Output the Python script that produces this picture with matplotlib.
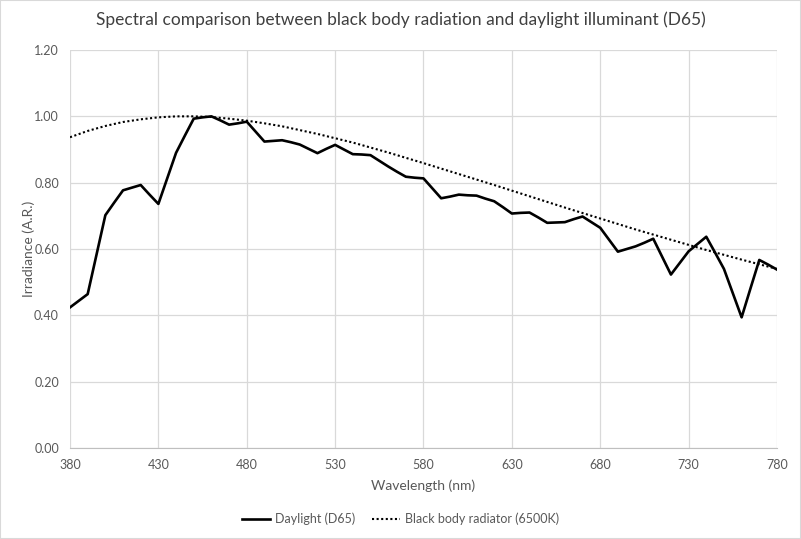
import numpy as np
import matplotlib.pyplot as plt
from matplotlib.patches import Rectangle

# D65 relative spectral power, 5 nm steps, normalised to peak
wl_d65 = np.arange(380, 781, 5)
d65 = [0.424, 0.444, 0.464, 0.583, 0.702, 0.740, 0.777, 0.785, 0.793, 0.764,
       0.736, 0.813, 0.890, 0.942, 0.993, 0.997, 1.000, 0.988, 0.975, 0.979,
       0.984, 0.954, 0.924, 0.926, 0.928, 0.922, 0.915, 0.902, 0.889, 0.902,
       0.914, 0.900, 0.886, 0.885, 0.883, 0.866, 0.849, 0.833, 0.818, 0.815,
       0.813, 0.783, 0.753, 0.758, 0.764, 0.762, 0.761, 0.752, 0.744, 0.726,
       0.707, 0.709, 0.710, 0.695, 0.679, 0.680, 0.681, 0.690, 0.698, 0.681,
       0.664, 0.628, 0.592, 0.600, 0.608, 0.619, 0.631, 0.577, 0.523, 0.558,
       0.593, 0.615, 0.637, 0.589, 0.540, 0.467, 0.394, 0.481, 0.567, 0.553,
       0.538]

# black body radiator 6500 K, normalised to peak
wl_bb = [380, 390, 400, 410, 420, 430, 440, 450, 460, 470, 480, 490, 500,
         520, 540, 560, 580, 600, 620, 640, 660, 680, 700, 720, 740, 760, 780]
bb = [0.937, 0.956, 0.971, 0.983, 0.991, 0.997, 1.000, 1.000, 0.998, 0.993,
      0.987, 0.979, 0.970, 0.947, 0.921, 0.891, 0.859, 0.826, 0.793, 0.759,
      0.725, 0.692, 0.659, 0.628, 0.597, 0.568, 0.540]

xticks = np.arange(380, 781, 50)
yticks = np.arange(0, 1.21, 0.2)

plt.rcParams['font.family'] = ['Lato', 'DejaVu Sans']
grey = '#595959'

fig = plt.figure(figsize=(8.01, 5.39), dpi=100)
ax = fig.add_axes([0.0874, 0.1688, 0.8826, 0.7384])

ax.plot(wl_d65, d65, color='black', lw=1.9, label='Daylight (D65)')
ax.plot(wl_bb, bb, color='black', lw=1.5, linestyle=(0, (1, 1.2)),
        label='Black body radiator (6500K)')

ax.set_xlim(380, 780)
ax.set_ylim(0, 1.2)
ax.set_xticks(xticks)
ax.set_yticks(yticks)
ax.set_yticklabels([f'{v:.2f}' for v in yticks])
ax.grid(True, color='#d9d9d9', lw=0.9)
ax.set_axisbelow(True)
ax.tick_params(length=0, colors=grey, labelsize=9, pad=8)
for side in ['top', 'right', 'left']:
    ax.spines[side].set_visible(False)
ax.spines['bottom'].set_color('#bfbfbf')

ax.set_xlabel('Wavelength (nm)', color=grey, fontsize=10, labelpad=6)
ax.set_ylabel('Irradiance (A.R.)', color=grey, fontsize=10)
ax.yaxis.set_label_coords(-0.05, 0.5)
fig.suptitle('Spectral comparison between black body radiation and daylight illuminant (D65)',
             y=0.978, fontsize=12.5, color='#404040')

leg = fig.legend(loc='center', ncol=2, frameon=False, fontsize=9,
                 bbox_to_anchor=(0.5, 1 - 519 / 539), handlelength=2.2,
                 columnspacing=1.4, handletextpad=0.4)
for t in leg.get_texts():
    t.set_color(grey)

fig.patches.append(Rectangle((0, 0), 1, 1, transform=fig.transFigure,
                             fill=False, edgecolor='#d9d9d9', lw=1.5))

fig.savefig('out.png', dpi=100)
